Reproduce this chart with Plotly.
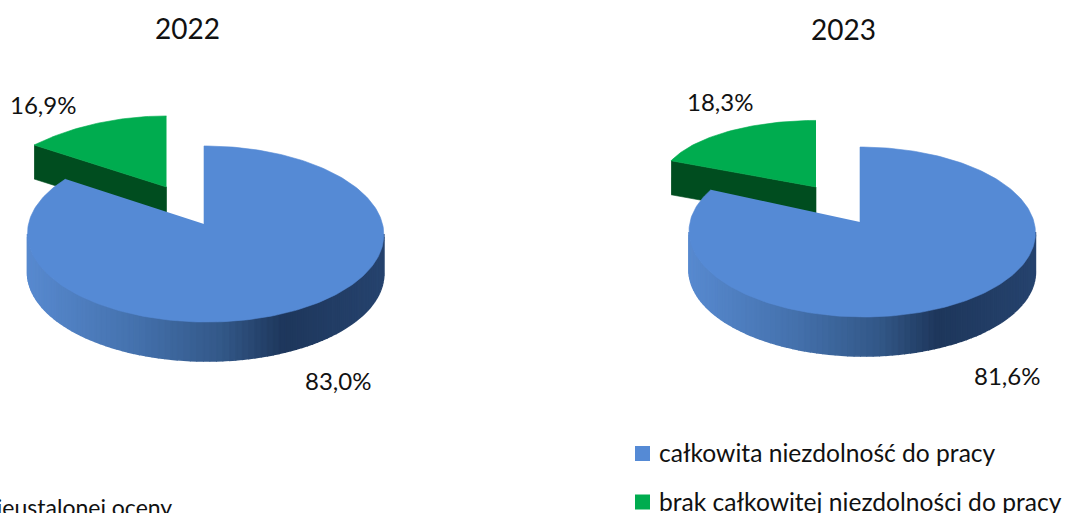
import numpy as np
import plotly.graph_objects as go

years = ["2022", "2023"]
categories = ["całkowita niezdolność do pracy", "brak całkowitej niezdolności do pracy"]
values_2022 = [83.0, 16.9]
values_2023 = [81.6, 18.3]
label_texts_2022 = ["83,0%", "16,9%"]
label_texts_2023 = ["81,6%", "18,3%"]
clipped_note = "nieustalonej oceny"

BLUE = "#558AD5"
GREEN = "#00AC4F"
GREEN_DARK = "#004D1F"
FONT = "Lato"
W, H = 1069, 513

# geometry of each drawn pie (page pixels) -- style only, slice extents come from values
PIES = [
    dict(values=values_2022, labels=label_texts_2022, title=years[0], title_xy=(187, 28),
         apex=(204, 224), a=86.9, b=177.0, k=0.1136, sweep=1.015, depth=39, skew=3,
         g_apex=(166.5, 187), g_a=108, g_b=190, g_k=0.52, g_depth=34,
         blue_xy=(338, 380), green_xy=(43, 104)),
    dict(values=values_2023, labels=label_texts_2023, title=years[1], title_xy=(843, 29),
         apex=(860, 222), a=83.8, b=172, k=0.1176, sweep=1.0, depth=39, skew=4,
         g_apex=(816, 187), g_a=62.7, g_b=155, g_k=-0.058, g_depth=34,
         blue_xy=(1007, 375), green_xy=(720, 101)),
]


def project(apex, a, b, k, t_deg, skew=0):
    t = np.radians(t_deg)
    u, v = np.sin(t), np.cos(t)
    d = 1 + k * v
    return apex[0] + b * u / d + skew * (1 - v) / 2, apex[1] - a * v / d


def lerp_color(f):
    stops = [(0.0, (0x58, 0x8A, 0xD0)), (0.3, (0x45, 0x72, 0xAE)), (0.55, (0x33, 0x58, 0x88)),
             (0.72, (0x1E, 0x37, 0x5C)), (1.0, (0x26, 0x43, 0x6E))]
    for (f0, c0), (f1, c1) in zip(stops, stops[1:]):
        if f <= f1:
            w = (f - f0) / (f1 - f0)
            return "rgb(%d,%d,%d)" % tuple(c0[i] + (c1[i] - c0[i]) * w for i in range(3))
    return "rgb(38,67,110)"


fig = go.Figure()


def poly(x, y, color, lw=0.6):
    fig.add_trace(go.Scatter(x=list(x), y=list(y), mode="lines", fill="toself", fillcolor=color,
                             line=dict(color=color, width=lw), hoverinfo="skip", showlegend=False))


for p in PIES:
    total = 100.0
    blue_end = 360 * p["values"][0] / total * p["sweep"]
    green_start = 360 * (1 - p["values"][1] / total)

    # exploded slice: side wall then top
    gx, gy = project(p["g_apex"], p["g_a"], p["g_b"], p["g_k"], green_start)
    ax, ay = p["g_apex"]
    poly([gx, ax, ax, gx], [gy, ay, ay + p["g_depth"], gy + p["g_depth"]], GREEN_DARK)
    ts = np.linspace(green_start, 360, 60)
    xs, ys = project(p["g_apex"], p["g_a"], p["g_b"], p["g_k"], ts)
    poly(np.r_[ax, xs], np.r_[ay, ys], GREEN)

    # main slice: shaded rim in strips then top
    widest = np.degrees(np.arccos(-p["k"]))
    ts = np.linspace(widest, 360 - widest, 90)
    xs, ys = project(p["apex"], p["a"], p["b"], p["k"], ts, p["skew"])
    x_min, x_max = xs.min(), xs.max()
    for i in range(len(ts) - 1, 0, -1):
        f = ((xs[i] + xs[i - 1]) / 2 - x_min) / (x_max - x_min)
        poly([xs[i - 1], xs[i], xs[i], xs[i - 1]],
             [ys[i - 1], ys[i], ys[i] + p["depth"], ys[i - 1] + p["depth"]], lerp_color(f), 1.6)
    ts = np.linspace(0, blue_end, 240)
    xs, ys = project(p["apex"], p["a"], p["b"], p["k"], ts, p["skew"])
    poly(np.r_[p["apex"][0], xs], np.r_[p["apex"][1], ys], BLUE)

annotations = []


def text(x, y, s, size, xanchor="center"):
    annotations.append(dict(x=x, y=y, text=s, showarrow=False, xanchor=xanchor, yanchor="middle",
                            font=dict(family=FONT, size=size, color="#111111")))


for p in PIES:
    text(*p["title_xy"], p["title"], 28)
    text(*p["blue_xy"], p["labels"][0], 24)
    text(*p["green_xy"], p["labels"][1], 24)

for cat, color, y in zip(categories, [BLUE, GREEN], [453.5, 502]):
    fig.add_trace(go.Scatter(x=[642.5], y=[y], mode="markers", hoverinfo="skip", showlegend=False,
                             marker=dict(symbol="square", size=15, color=color)))
    text(657, y - 1, cat, 24.6, "left")

text(174, 507, clipped_note, 23, "right")

fig.update_layout(
    width=W, height=H, margin=dict(l=0, r=0, t=0, b=0), autosize=False,
    paper_bgcolor="white", plot_bgcolor="white", annotations=annotations,
    xaxis=dict(range=[0, W], visible=False, fixedrange=True),
    yaxis=dict(range=[H, 0], visible=False, fixedrange=True),
)
fig.write_html("out.html", config={"displayModeBar": False},
               post_script="document.body.style.margin='0';document.body.style.overflow='hidden';")
